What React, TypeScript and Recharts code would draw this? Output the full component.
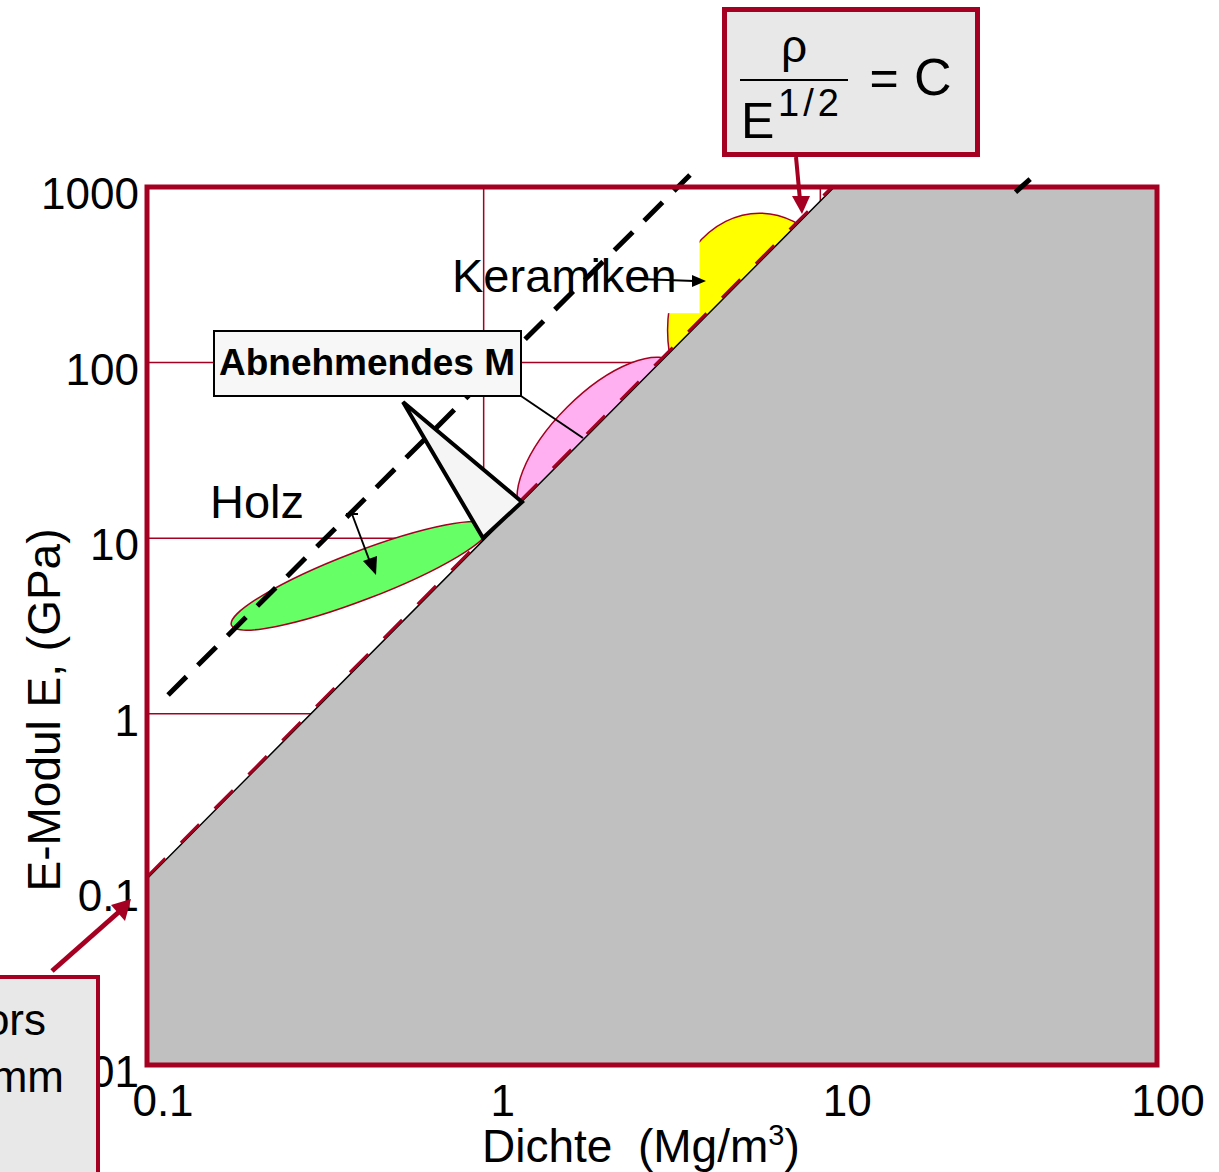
import React from 'react';
import {
  ComposedChart,
  XAxis,
  YAxis,
  CartesianGrid,
  Area,
  Line,
  Scatter,
  ReferenceLine,
  ReferenceArea,
  Label,
} from 'recharts';

const CRIMSON = '#A50021';
const FONT = '"Liberation Sans", Arial, Helvetica, sans-serif';

// axis ticks
const densityTicks = [0.1, 1, 10, 100];
const modulusTicks = [0.01, 0.1, 1, 10, 100, 1000];

// upper-left edge of the grey region (rho / E^1/2 limit)
const limitDensity = [0.1, 11, 100];
const limitModulus = [0.115, 1000, 1000];

// remaining outline of the grey region
const edgeDensity = [0.1, 0.1, 100, 100];
const edgeModulus = [0.115, 0.01, 0.01, 1000];

// red dashed trace along the limit
const traceDensity = [0.1, 11];
const traceModulus = [0.118, 1030];

// black dashed guide lines  rho / E^1/2 = C
const guideDensity = [0.1155, 4.1];
const guideModulus = [1.28, 1170];
const guide2Density = [38, 42];
const guide2Modulus = [936, 1110];

// material bubbles (centres)
const bubbleNames = ['Holz', 'Mitte', 'Keramiken'];
const bubbleDensity = [0.43, 2.22, 6.6];
const bubbleModulus = [6.1, 36, 153];

const bubbleStyle: Record<string, { fill: string; rx: number; ry: number; angle: number; mask?: boolean }> = {
  Holz: { fill: '#66FF66', rx: 138, ry: 24, angle: -21 },
  Mitte: { fill: '#FFB0F0', rx: 108, ry: 47, angle: -45 },
  Keramiken: { fill: '#FFFF00', rx: 92, ry: 117, angle: 0, mask: true },
};

// small horizontal nudges of the x tick labels, as in the original slide
const densityTickShift: Record<string, number> = { '0.1': 16, '1': 19, '10': 27, '100': 11 };

const pairs = (xs: number[], ys: number[]) => xs.map((x, i) => ({ x, y: ys[i] }));

const Bubble = (props: any) => {
  const { cx, cy, payload } = props;
  const s = bubbleStyle[payload?.name] || bubbleStyle.Holz;
  return (
    <g>
      <ellipse
        cx={cx}
        cy={cy}
        rx={s.rx}
        ry={s.ry}
        transform={`rotate(${s.angle} ${cx} ${cy})`}
        fill={s.fill}
        stroke={CRIMSON}
        strokeWidth={1.5}
      />
      {s.mask && <rect x={cx - 160} y={cy - 112} width={100} height={95} fill="#fff" />}
    </g>
  );
};

const DensityTick = (props: any) => {
  const { x, y, payload } = props;
  const label = String(payload.value);
  return (
    <text x={x + (densityTickShift[label] ?? 18)} y={y + 51} textAnchor="middle" fontSize={44} fontFamily={FONT} fill="#000">
      {label}
    </text>
  );
};

const ModulusTick = (props: any) => {
  const { x, y, payload } = props;
  return (
    <text x={x} y={y + 22} textAnchor="end" fontSize={44} fontFamily={FONT} fill="#000">
      {String(payload.value)}
    </text>
  );
};

const XTitle = () => (
  <text x={482} y={1162} fontSize={46} fontFamily={FONT} fill="#000" xmlSpace="preserve" style={{ whiteSpace: 'pre' }}>
    Dichte  (Mg/m<tspan dy={-17} fontSize={29}>3</tspan>
    <tspan dy={17}>)</tspan>
  </text>
);

const YTitle = () => (
  <text x={60} y={710} transform="rotate(-90 60 710)" textAnchor="middle" fontSize={46} fontFamily={FONT} fill="#000">
    E-Modul E, (GPa)
  </text>
);

const Annotations = () => (
  <svg
    width={1219}
    height={1172}
    style={{ position: 'absolute', left: 0, top: 0, pointerEvents: 'none', fontFamily: FONT }}
  >
    {/* formula box */}
    <rect x={724.5} y={9.5} width={253} height={145} fill="#E8E8E8" stroke={CRIMSON} strokeWidth={5} />
    <text x={794} y={62} textAnchor="middle" fontSize={46} fill="#000">ρ</text>
    <line x1={740} y1={80} x2={848} y2={80} stroke="#000" strokeWidth={2} />
    <text x={741} y={138} fontSize={50} fill="#000">E</text>
    <text x={778} y={116} fontSize={38} letterSpacing={4} fill="#000">1/2</text>
    <text x={884} y={95} textAnchor="middle" fontSize={50} fill="#000">=</text>
    <text x={914} y={95} fontSize={52} fill="#000">C</text>
    <line x1={796} y1={157} x2={800} y2={200} stroke={CRIMSON} strokeWidth={4} />
    <polygon points="792,196 810,196 802,214" fill={CRIMSON} />

    {/* lower-left box */}
    <rect x={-10} y={977} width={108} height={200} fill="#E8E8E8" stroke={CRIMSON} strokeWidth={4} />
    <text x={46} y={1035} textAnchor="end" fontSize={44} fill="#000">ors</text>
    <text x={64} y={1092} textAnchor="end" fontSize={44} fill="#000">mm</text>
    <line x1={52} y1={971} x2={120} y2={911} stroke={CRIMSON} strokeWidth={5} />
    <polygon points="111,905 125,921 131,899" fill={CRIMSON} />

    {/* wedge callout */}
    <polygon points="403,402 483,538 522,502" fill="#F5F5F5" stroke="#000" strokeWidth={4} strokeLinejoin="miter" />
    <line x1={521} y1={396} x2={583} y2={438} stroke="#000" strokeWidth={2} />
    <rect x={214} y={331} width={307} height={65} fill="#F7F7F7" stroke="#000" strokeWidth={2} />
    <text x={219} y={375} fontSize={37} fontWeight="bold" fill="#000">Abnehmendes M</text>

    {/* Keramiken */}
    <text x={452} y={292} fontSize={47} fill="#000">Keramiken</text>
    <line x1={640} y1={279} x2={694} y2={281} stroke="#000" strokeWidth={2} />
    <polygon points="692,275 692,287 706,281" fill="#000" />

    {/* Holz */}
    <text x={210} y={518} fontSize={47} fill="#000">Holz</text>
    <line x1={346} y1={514} x2={358} y2={514} stroke="#000" strokeWidth={2} />
    <line x1={352} y1={514} x2={370} y2={562} stroke="#000" strokeWidth={2} />
    <polygon points="363,561 377,556 376,575" fill="#000" />
  </svg>
);

export default function App() {
  const limitData = pairs(limitDensity, limitModulus);
  const edgeData = pairs(edgeDensity, edgeModulus);
  const bubbleData = bubbleNames.map((name, i) => ({ name, x: bubbleDensity[i], y: bubbleModulus[i] }));

  return (
    <div style={{ position: 'absolute', left: 0, top: 0, width: 1219, height: 1172, background: '#fff', overflow: 'hidden' }}>
      <ComposedChart width={1219} height={1172} margin={{ top: 187, right: 62, bottom: 47, left: 47 }}>
        <CartesianGrid stroke={CRIMSON} strokeWidth={1.5} />
        <XAxis
          type="number"
          dataKey="x"
          scale="log"
          domain={[0.1, 100]}
          ticks={densityTicks}
          interval={0}
          allowDataOverflow
          axisLine={false}
          tickLine={false}
          tickSize={0}
          tickMargin={0}
          height={60}
          tick={DensityTick}
        >
          <Label content={XTitle} />
        </XAxis>
        <YAxis
          type="number"
          dataKey="y"
          scale="log"
          domain={[0.01, 1000]}
          ticks={modulusTicks}
          interval={0}
          allowDataOverflow
          axisLine={false}
          tickLine={false}
          tickSize={0}
          tickMargin={8}
          width={100}
          tick={ModulusTick}
        >
          <Label content={YTitle} />
        </YAxis>

        <Scatter data={bubbleData} shape={Bubble} isAnimationActive={false} zIndex={50} />

        <Area
          data={limitData}
          dataKey="y"
          type="linear"
          baseValue={0.01}
          fill="#C0C0C0"
          fillOpacity={1}
          stroke="#000"
          strokeWidth={1.5}
          isAnimationActive={false}
          zIndex={100}
        />
        <Line
          data={edgeData}
          dataKey="y"
          type="linear"
          stroke="#000"
          strokeWidth={2.5}
          dot={false}
          activeDot={false}
          isAnimationActive={false}
          zIndex={110}
        />
        <ReferenceLine
          segment={pairs(traceDensity, traceModulus)}
          stroke={CRIMSON}
          strokeWidth={3}
          strokeDasharray="26 22"
          ifOverflow="hidden"
          zIndex={115}
        />
        <ReferenceLine
          segment={pairs(guideDensity, guideModulus)}
          stroke="#000"
          strokeWidth={5}
          strokeDasharray="26 16"
          ifOverflow="visible"
          zIndex={120}
        />
        <ReferenceArea
          x1={0.1}
          x2={100}
          y1={0.01}
          y2={1000}
          fill="none"
          fillOpacity={0}
          stroke={CRIMSON}
          strokeWidth={5}
          ifOverflow="visible"
          zIndex={130}
        />
        <ReferenceLine
          segment={pairs(guide2Density, guide2Modulus)}
          stroke="#000"
          strokeWidth={5}
          ifOverflow="visible"
          zIndex={140}
        />
      </ComposedChart>
      <Annotations />
    </div>
  );
}
